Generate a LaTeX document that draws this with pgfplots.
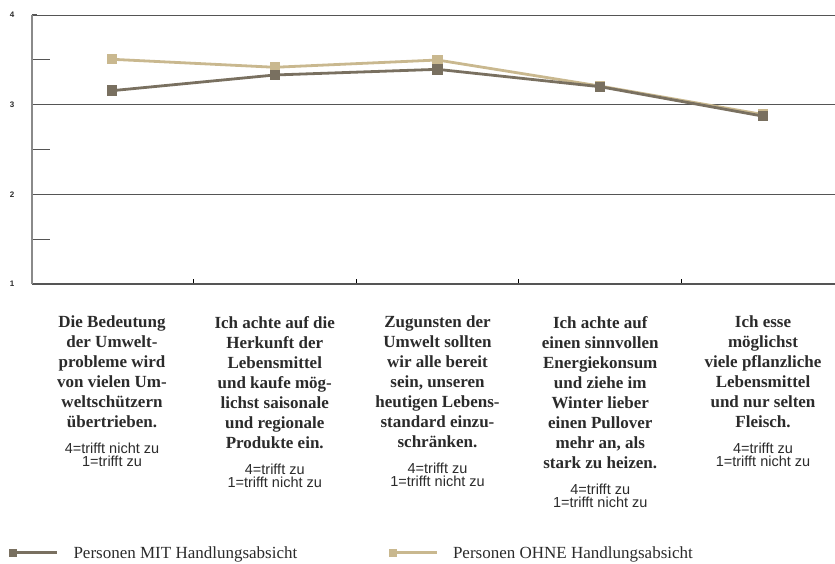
\documentclass[border=0pt]{standalone}
\usepackage{fontspec}
\setmainfont{Liberation Serif}
\setsansfont{Liberation Sans}
\usepackage{pgfplots}
\pgfplotsset{compat=1.18}
\definecolor{mit}{HTML}{797060}
\definecolor{ohne}{HTML}{C9B88F}
\definecolor{gridc}{HTML}{555555}
\definecolor{axc}{HTML}{8A8A8A}
\definecolor{txt}{HTML}{2B2B2B}
\newcommand{\note}[1]{{\sffamily\fontsize{14.5}{14}\selectfont\mdseries #1}}
\begin{document}
\begin{tikzpicture}[x=1pt,y=1pt]
\path[use as bounding box] (0,0) rectangle (835,564);
\begin{axis}[
  at={(32pt,280pt)}, anchor=south west,
  scale only axis, width=803pt, height=269pt,
  xmin=-0.4916, xmax=4.4424, ymin=1, ymax=4,
  axis x line*=bottom, axis y line*=left,
  axis line style={-},
  x axis line style={draw=gridc, line width=1.3pt},
  y axis line style={draw=axc, line width=1.5pt},
  tick align=inside,
  major tick length=5pt, minor tick length=18pt,
  ytick={1,2,3,4}, minor ytick={1.5,2.5,3.5},
  ymajorgrids, major grid style={draw=gridc, line width=0.9pt},
  ytick style={draw=gridc, line width=1pt},
  minor tick style={draw=gridc, line width=1pt},
  yticklabel style={font=\sffamily\bfseries\fontsize{8}{9}\selectfont, text=txt, anchor=center, xshift=-20pt},
  /pgf/number format/assume math mode=true,
  xtick={0.5,1.5,2.5,3.5}, xticklabels={},
  xtick style={draw=black, line width=1pt},
  extra x ticks={0,1,2,3,4},
  extra x tick style={major tick length=0pt, tick style={draw=none},
    tick label style={font=\fontsize{17}{20}\selectfont\bfseries, text=txt, align=center, anchor=north, inner sep=0pt, yshift=-32pt}},
  extra x tick labels={
    {Die Bedeutung\\der Umwelt-\\probleme wird\\von vielen Um-\\weltschützern\\übertrieben.\\[6pt]\note{4=trifft nicht zu}\\[-7pt]\note{1=trifft zu}},
    {Ich achte auf die\\Herkunft der\\Lebensmittel\\und kaufe mög-\\lichst saisonale\\und regionale\\Produkte ein.\\[6pt]\note{4=trifft zu}\\[-7pt]\note{1=trifft nicht zu}},
    {Zugunsten der\\Umwelt sollten\\wir alle bereit\\sein, unseren\\heutigen Lebens-\\standard einzu-\\schränken.\\[6pt]\note{4=trifft zu}\\[-7pt]\note{1=trifft nicht zu}},
    {Ich achte auf\\einen sinnvollen\\Energiekonsum\\und ziehe im\\Winter lieber\\einen Pullover\\mehr an, als\\stark zu heizen.\\[6pt]\note{4=trifft zu}\\[-7pt]\note{1=trifft nicht zu}},
    {Ich esse\\möglichst\\viele pflanzliche\\Lebensmittel\\und nur selten\\Fleisch.\\[6pt]\note{4=trifft zu}\\[-7pt]\note{1=trifft nicht zu}}
  },
  legend columns=2, reverse legend,
  legend style={at={(axis description cs:-0.0286,-1.0)}, anchor=west, draw=none, fill=none,
    inner sep=0pt, outer sep=0pt, font=\fontsize{17}{18}\selectfont, text=txt,
    nodes={inner sep=0pt}, /tikz/every odd column/.append style={column sep=15pt}},
  legend image code/.code={
    \draw[#1, mark=none, line width=3pt] (8pt,0pt) -- (48pt,0pt);
    \fill[#1, draw=none] (0pt,-4pt) rectangle (8pt,4pt);
  },
]
\addplot[ohne, line width=2.8pt, mark=square*, mark size=3.8pt, mark options={solid}]
  coordinates {(0,3.506) (1,3.417) (2,3.498) (3,3.207) (4,2.89)};
\addlegendentry{Personen OHNE Handlungsabsicht}
\addplot[mit, line width=2.8pt, mark=square*, mark size=3.8pt, mark options={solid}]
  coordinates {(0,3.156) (1,3.331) (2,3.394) (3,3.200) (4,2.872)};
\addlegendentry{\makebox[315pt][l]{Personen MIT Handlungsabsicht}}
\end{axis}
\end{tikzpicture}
\end{document}
